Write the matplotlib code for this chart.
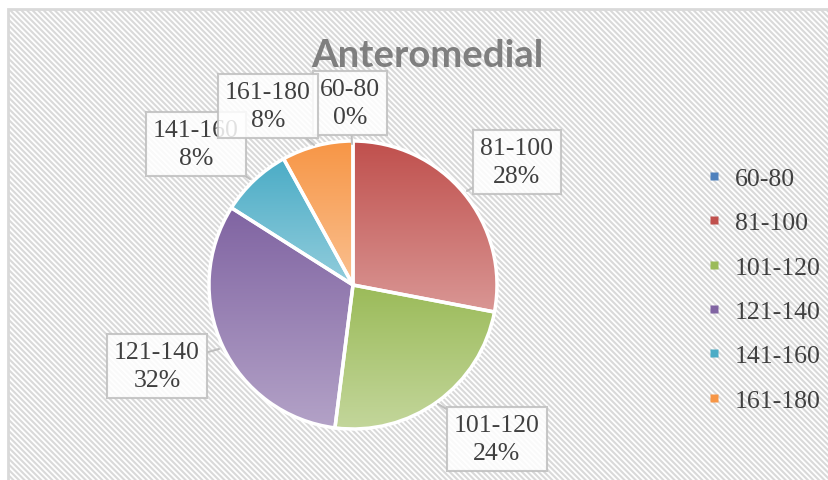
import numpy as np
import matplotlib.pyplot as plt
from matplotlib.patches import Rectangle
from matplotlib.lines import Line2D
from matplotlib.colors import to_rgb

# data
categories = ['60-80', '81-100', '101-120', '121-140', '141-160', '161-180']
values = [0, 28, 24, 32, 8, 8]
top_colors = ['#4f81bd', '#c0504d', '#9bbb59', '#8064a2', '#4bacc6', '#f79646']
bottom_colors = ['#95b3d7', '#d99694', '#c3d69b', '#b3a2c7', '#92cddc', '#fac090']

# label boxes (pixel position from top-left) and where the callout points
label_pos = [(350, 104), (517, 163), (497, 440), (157, 367), (196, 145), (268, 107)]
tail_pos = [(352, 145), (467, 192), (438, 405), (219, 350), (250, 180), (314, 146)]

W, H = 829, 481
fig = plt.figure(figsize=(W / 100, H / 100), dpi=100)
ax = fig.add_axes([0, 0, 1, 1])

plt.rcParams['hatch.color'] = '#e4e4e4'
plt.rcParams['hatch.linewidth'] = 1.5

cx, cy, r = 353, H - 286, 144
wedges, _ = ax.pie(values, startangle=90, counterclock=False, center=(cx, cy),
                   radius=r, wedgeprops=dict(edgecolor='white', linewidth=2.5),
                   frame=True)
ax.set_xlim(0, W)
ax.set_ylim(0, H)
ax.set_aspect('equal')
ax.axis('off')

# chart area with diagonal pattern
bg = Rectangle((8, -5), W, H - 10 + 5, facecolor='white', edgecolor='#d9d9d9',
               hatch='\\' * 6, linewidth=2, zorder=0)
ax.add_patch(bg)

# vertical gradient inside each wedge
for w, c1, c2 in zip(wedges, top_colors, bottom_colors):
    if w.theta2 - w.theta1 <= 0:
        continue
    t = np.radians(np.linspace(w.theta1, w.theta2, 100))
    ys = np.concatenate([[cy], cy + r * np.sin(t)])
    xs = np.concatenate([[cx], cx + r * np.cos(t)])
    grad = np.linspace(0, 1, 100)[:, None]
    a, b = np.array(to_rgb(c1)), np.array(to_rgb(c2))
    img = a + (b - a) * grad
    img = np.repeat(img[:, None, :], 2, axis=1)
    im = ax.imshow(img, extent=(xs.min(), xs.max(), ys.min(), ys.max()),
                   origin='upper', aspect='auto', zorder=w.get_zorder())
    im.set_clip_path(w)
    w.set_facecolor('none')
    w.set_zorder(w.get_zorder() + 0.5)
ax.set_xlim(0, W)
ax.set_ylim(0, H)

# callout labels
total = sum(values)
for cat, v, (lx, ly), (tx, ty) in zip(categories, values, label_pos, tail_pos):
    ax.annotate(f'{cat}\n{v / total * 100:.0f}%', xy=(tx, H - ty), xytext=(lx, H - ly),
                ha='center', va='center', fontsize=18.5, color='#404040',
                family='Liberation Serif', multialignment='center', linespacing=1.3,
                bbox=dict(boxstyle='square,pad=0.28', facecolor='white', alpha=0.85,
                          edgecolor='#bfbfbf', linewidth=1.5),
                arrowprops=dict(arrowstyle='-', color='#bfbfbf', linewidth=1.5,
                                shrinkA=0, shrinkB=0),
                zorder=5)

ax.text(427, H - 67, 'Anteromedial', ha='center', va='baseline', fontsize=27.5,
        fontweight='bold', color='#7f7f7f', family='Lato', zorder=4)

# legend
handles = [Line2D([], [], marker='s', linestyle='none', markersize=6,
                  markerfacecolor=c, markeredgecolor='none') for c in top_colors]
leg = ax.legend(handles, categories, loc='upper left', bbox_to_anchor=(705 / W, 1 - 168 / H),
                frameon=False, labelspacing=0.83, handlelength=0.7, borderpad=0,
                borderaxespad=0, handletextpad=0.45,
                prop={'family': 'Liberation Serif', 'size': 18.5})
for txt in leg.get_texts():
    txt.set_color('#404040')

fig.savefig('out.png', dpi=100)
